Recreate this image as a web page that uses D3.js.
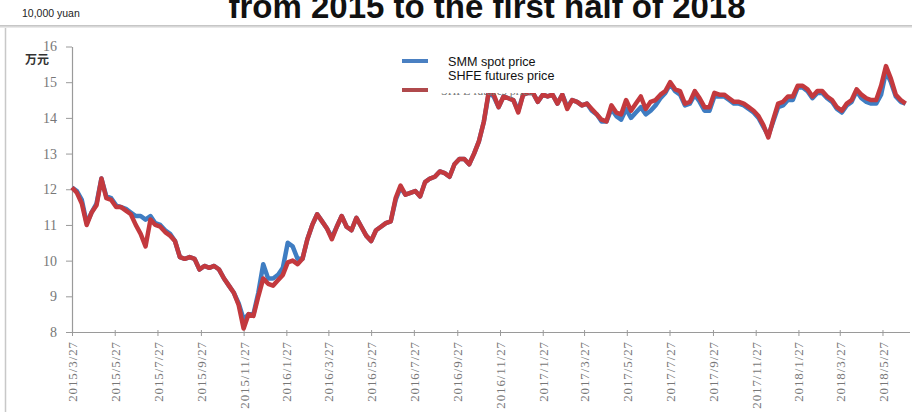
<!DOCTYPE html>
<html><head><meta charset="utf-8">
<script src="https://cdn.jsdelivr.net/npm/d3@7/dist/d3.min.js"></script>
<style>
html,body{margin:0;padding:0;background:#fff;}
svg{display:block;}
</style></head>
<body>
<svg id="chart" width="912" height="412"></svg>
<script>
const dates = [
"2015-03-27","2015-04-03","2015-04-10","2015-04-17","2015-04-24","2015-05-01","2015-05-08","2015-05-15","2015-05-22","2015-05-29",
"2015-06-05","2015-06-12","2015-06-19","2015-06-26","2015-07-03","2015-07-10","2015-07-17","2015-07-24","2015-07-31","2015-08-07",
"2015-08-14","2015-08-21","2015-08-28","2015-09-04","2015-09-11","2015-09-18","2015-09-25","2015-10-02","2015-10-09","2015-10-16",
"2015-10-23","2015-10-30","2015-11-06","2015-11-13","2015-11-20","2015-11-27","2015-12-04","2015-12-11","2015-12-18","2015-12-25",
"2016-01-01","2016-01-08","2016-01-15","2016-01-22","2016-01-29","2016-02-05","2016-02-12","2016-02-19","2016-02-26","2016-03-04",
"2016-03-11","2016-03-18","2016-03-25","2016-04-01","2016-04-08","2016-04-15","2016-04-22","2016-04-29","2016-05-06","2016-05-13",
"2016-05-20","2016-05-27","2016-06-03","2016-06-10","2016-06-17","2016-06-24","2016-07-01","2016-07-08","2016-07-15","2016-07-22",
"2016-07-29","2016-08-05","2016-08-12","2016-08-19","2016-08-26","2016-09-02","2016-09-09","2016-09-16","2016-09-23","2016-09-30",
"2016-10-07","2016-10-14","2016-10-21","2016-10-28","2016-11-04","2016-11-11","2016-11-18","2016-11-25","2016-12-02","2016-12-09",
"2016-12-16","2016-12-23","2016-12-30","2017-01-06","2017-01-13","2017-01-20","2017-01-27","2017-02-03","2017-02-10","2017-02-17",
"2017-02-24","2017-03-03","2017-03-10","2017-03-17","2017-03-24","2017-03-31","2017-04-07","2017-04-14","2017-04-21","2017-04-28",
"2017-05-05","2017-05-12","2017-05-19","2017-05-26","2017-06-02","2017-06-09","2017-06-16","2017-06-23","2017-06-30","2017-07-07",
"2017-07-14","2017-07-21","2017-07-28","2017-08-04","2017-08-11","2017-08-18","2017-08-25","2017-09-01","2017-09-08","2017-09-15",
"2017-09-22","2017-09-29","2017-10-06","2017-10-13","2017-10-20","2017-10-27","2017-11-03","2017-11-10","2017-11-17","2017-11-24",
"2017-12-01","2017-12-08","2017-12-15","2017-12-22","2017-12-29","2018-01-05","2018-01-12","2018-01-19","2018-01-26","2018-02-02",
"2018-02-09","2018-02-16","2018-02-23","2018-03-02","2018-03-09","2018-03-16","2018-03-23","2018-03-30","2018-04-06","2018-04-13",
"2018-04-20","2018-04-27","2018-05-04","2018-05-11","2018-05-18","2018-05-25","2018-06-01","2018-06-08","2018-06-15","2018-06-22",
"2018-06-29"
];

const futuresPrice = [
12.05,11.9,11.6,11.0,11.35,11.55,12.3,11.75,11.7,11.5,
11.5,11.4,11.3,11.0,10.75,10.4,11.15,11.0,10.95,10.8,
10.7,10.55,10.1,10.05,10.1,10.05,9.75,9.85,9.8,9.85,
9.75,9.5,9.3,9.1,8.75,8.1,8.5,8.45,9.0,9.5,
9.35,9.3,9.45,9.6,9.95,10.0,9.9,10.05,10.6,11.0,
11.3,11.1,10.9,10.6,10.95,11.25,10.95,10.85,11.2,10.95,
10.7,10.55,10.85,10.95,11.05,11.1,11.75,12.1,11.85,11.9,
11.95,11.8,12.2,12.3,12.35,12.5,12.45,12.35,12.7,12.85,
12.85,12.7,13.0,13.35,13.9,14.75,14.65,14.3,14.6,14.55,
14.5,14.15,14.65,14.7,14.7,14.45,14.65,14.6,14.65,14.4,
14.65,14.25,14.5,14.45,14.35,14.4,14.25,14.1,13.95,13.9,
14.35,14.15,14.1,14.5,14.2,14.4,14.6,14.25,14.45,14.5,
14.65,14.75,15.0,14.8,14.75,14.4,14.45,14.75,14.55,14.3,
14.3,14.7,14.65,14.65,14.55,14.45,14.45,14.4,14.3,14.2,
14.05,13.8,13.45,13.95,14.4,14.45,14.6,14.6,14.9,14.9,
14.8,14.6,14.75,14.75,14.6,14.5,14.3,14.2,14.4,14.5,
14.8,14.65,14.55,14.5,14.5,14.9,15.45,15.1,14.65,14.5,
14.4
];

const spotPrice = [
12.05,11.95,11.7,11.05,11.35,11.6,12.3,11.8,11.75,11.55,
11.5,11.45,11.35,11.25,11.25,11.15,11.25,11.05,11.0,10.85,
10.75,10.55,10.1,10.05,10.1,10.05,9.75,9.85,9.8,9.85,
9.75,9.5,9.3,9.1,8.8,8.35,8.5,8.5,9.1,9.9,
9.5,9.5,9.6,9.8,10.5,10.4,10.05,10.05,10.6,11.0,
11.3,11.1,10.9,10.65,10.95,11.25,10.95,10.85,11.2,10.95,
10.7,10.55,10.85,10.95,11.05,11.1,11.7,12.05,11.85,11.9,
11.95,11.8,12.2,12.3,12.35,12.5,12.45,12.35,12.7,12.85,
12.85,12.7,13.0,13.35,13.9,14.7,14.6,14.3,14.6,14.55,
14.5,14.2,14.65,14.7,14.7,14.45,14.65,14.6,14.65,14.4,
14.65,14.3,14.5,14.45,14.35,14.4,14.2,14.1,13.9,13.9,
14.25,14.05,13.95,14.25,14.0,14.15,14.3,14.1,14.2,14.35,
14.55,14.7,14.95,14.75,14.65,14.35,14.4,14.65,14.45,14.2,
14.2,14.6,14.6,14.6,14.5,14.4,14.4,14.35,14.25,14.15,
14.0,13.75,13.5,13.9,14.3,14.35,14.5,14.5,14.85,14.85,
14.75,14.55,14.7,14.7,14.55,14.45,14.25,14.15,14.35,14.45,
14.75,14.55,14.45,14.4,14.4,14.65,15.3,15.0,14.6,14.45,
14.4
];

const yTicks = [8, 9, 10, 11, 12, 13, 14, 15, 16];
const xTickLabels = ["2015/3/27","2015/5/27","2015/7/27","2015/9/27","2015/11/27","2016/1/27","2016/3/27","2016/5/27","2016/7/27","2016/9/27","2016/11/27","2017/1/27","2017/3/27","2017/5/27","2017/7/27","2017/9/27","2017/11/27","2018/1/27","2018/3/27","2018/5/27"];
const seriesNames = ["SMM spot price", "SHFE futures price"];
const titleText = "from 2015 to the first half of 2018";
const unitText = "10,000 yuan";
const unitCn = "万元";

const svg = d3.select("#chart");
const parseDash = d3.timeParse("%Y-%m-%d");
const parseSlash = d3.timeParse("%Y/%m/%d");
const rows = dates.map((d, i) => ({date: parseDash(d), spot: spotPrice[i], fut: futuresPrice[i]}));

const x = d3.scaleTime()
  .domain([parseDash("2015-03-27"), parseDash("2018-07-01")])
  .range([72, 907]);
const y = d3.scaleLinear().domain([8, 16]).range([332, 46.5]);

// top shadow line
const grad = svg.append("defs").append("linearGradient").attr("id","sh").attr("x1",0).attr("x2",0).attr("y1",0).attr("y2",1);
grad.append("stop").attr("offset","0%").attr("stop-color","#bdbdbd");
grad.append("stop").attr("offset","100%").attr("stop-color","#f2f2f2");
svg.append("rect").attr("x",0).attr("y",25).attr("width",912).attr("height",3).attr("fill","url(#sh)");
// left frame border
svg.append("line").attr("x1",5.5).attr("x2",5.5).attr("y1",28).attr("y2",412)
  .attr("stroke","#c8c8c8").attr("stroke-width",1.5);

// title & unit
svg.append("text").attr("x",487).attr("y",18).attr("text-anchor","middle")
  .attr("font-family","Liberation Sans, Arial, sans-serif").attr("font-weight","bold")
  .attr("font-size",33).attr("fill","#111").text(titleText);
svg.append("text").attr("x",22).attr("y",17)
  .attr("font-family","Liberation Sans, Arial, sans-serif").attr("font-size",10.5)
  .attr("fill","#222").text(unitText);

// y axis
const yAxis = svg.append("g").attr("transform","translate(72,0)")
  .call(d3.axisLeft(y).tickValues(yTicks).tickSize(6).tickSizeOuter(0).tickPadding(9).tickFormat(d3.format("d")));
yAxis.select(".domain").attr("stroke","#9a9a9a").attr("stroke-width",1.2);
yAxis.selectAll(".tick line").attr("stroke","#9a9a9a");
yAxis.selectAll("text").attr("font-family","Liberation Serif, serif").attr("font-size",14).attr("fill","#777");

svg.append("text").attr("x",37).attr("y",64).attr("text-anchor","middle")
  .attr("font-family","Noto Sans CJK SC, sans-serif").attr("font-weight","bold")
  .attr("font-size",12).attr("fill","#333").text(unitCn);

// x axis
const xAxis = svg.append("g").attr("transform","translate(0,332)")
  .call(d3.axisBottom(x).tickValues(xTickLabels.map(parseSlash)).tickSize(4).tickSizeOuter(0)
    .tickFormat(d3.timeFormat("%Y/%-m/%-d")));
xAxis.select(".domain").attr("stroke","#9a9a9a").attr("stroke-width",1.2).attr("d","M72,0.5H910");
xAxis.selectAll(".tick line").attr("stroke","#9a9a9a").attr("y1",-2);
xAxis.selectAll("text")
  .attr("transform","rotate(-90)").attr("text-anchor","end")
  .attr("x",-9).attr("y",0).attr("dy","0.35em")
  .attr("font-family","Liberation Serif, serif").attr("font-size",13)
  .attr("letter-spacing","0.9px").attr("fill","#777");

// lines
const lineSpot = d3.line().x(d => x(d.date)).y(d => y(d.spot));
const lineFut = d3.line().x(d => x(d.date)).y(d => y(d.fut));
svg.append("path").datum(rows).attr("d", lineSpot).attr("fill","none")
  .attr("stroke","#3f7dc2").attr("stroke-width",4.5).attr("stroke-linejoin","round");
svg.append("path").datum(rows).attr("d", lineFut).attr("fill","none")
  .attr("stroke","#c3393e").attr("stroke-width",4.5).attr("stroke-linejoin","round");

// legend
const legColors = ["#4a80c2", "#b04a4c"];
const legY = [61, 90];
legY.forEach((ly, i) => {
  svg.append("line").attr("x1",402).attr("x2",430).attr("y1",ly).attr("y2",ly)
    .attr("stroke",legColors[i]).attr("stroke-width",4);
});
svg.append("text").attr("x",441).attr("y",95).attr("font-family","Liberation Serif, serif")
  .attr("font-size",12).attr("fill","#777").text(seriesNames[1]);
svg.append("rect").attr("x",428).attr("y",43).attr("width",152).attr("height",50).attr("fill","#fff");
seriesNames.forEach((n, i) => {
  svg.append("text").attr("x",448).attr("y",[66,80][i])
    .attr("font-family","Liberation Sans, Arial, sans-serif").attr("font-size",12.6)
    .attr("fill","#111").text(n);
});
</script>
</body></html>
